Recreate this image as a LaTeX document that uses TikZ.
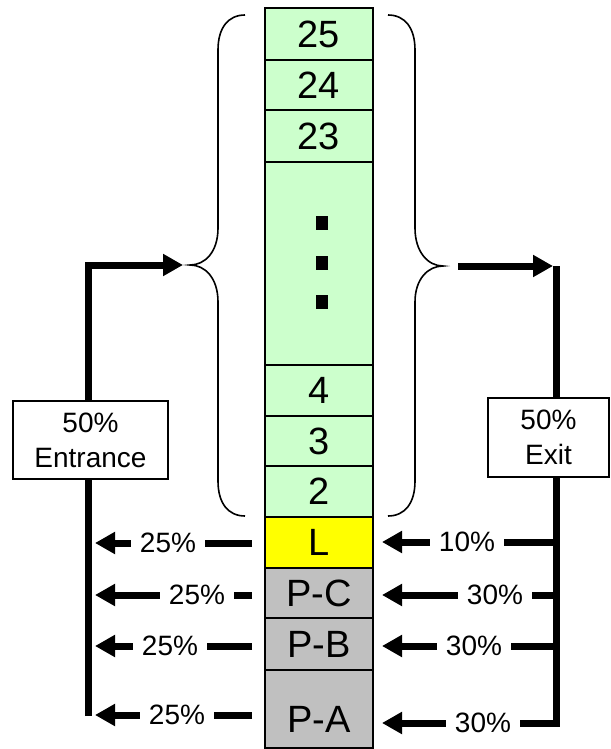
\documentclass[tikz,border=0pt]{standalone}
\usepackage{fontspec}
\setmainfont{Liberation Sans}
\usetikzlibrary{arrows.meta}
\definecolor{flgreen}{HTML}{CCFFCC}
\definecolor{flyellow}{HTML}{FFFF00}
\definecolor{flgray}{HTML}{C0C0C0}
\begin{document}
\begin{tikzpicture}[x=1pt,y=-1pt,
  floorbox/.style={draw, line width=1.8pt, minimum width=108pt, inner sep=0pt, font=\fontsize{38}{40}\selectfont},
  flow/.style={line width=7pt},
  arr/.style={flow, -{Triangle[length=20pt,width=21pt]}},
  pct/.style={fill=white, inner xsep=9pt, inner ysep=2pt, font=\fontsize{28}{30}\selectfont},
  infobox/.style={draw, line width=1.5pt, fill=white, align=center, inner sep=0pt, font=\fontsize{28}{35}\selectfont},
  brc/.style={line width=1.6pt},
  sq/.style={fill=black, minimum width=12pt, minimum height=14pt, inner sep=0pt}]
\useasboundingbox (0,0) rectangle (610,749);

% column of floors
\node[floorbox, fill=flgreen, minimum height=52pt] (f25) at (319,34) {25};
\node[floorbox, fill=flgreen, minimum height=50pt] (f24) at (319,85) {24};
\node[floorbox, fill=flgreen, minimum height=52pt] (f23) at (319,136) {23};
\node[floorbox, fill=flgreen, minimum height=203pt] (fdots) at (319,263.5) {};
\node[floorbox, fill=flgreen, minimum height=51pt] (f4) at (319,390.5) {4};
\node[floorbox, fill=flgreen, minimum height=50pt] (f3) at (319,441) {3};
\node[floorbox, fill=flgreen, minimum height=51pt] (f2) at (319,491.5) {2};
\node[floorbox, fill=flyellow, minimum height=51pt] (fL) at (319,542.5) {L};
\node[floorbox, fill=flgray, minimum height=50pt] (fPC) at (319,593) {P-C};
\node[floorbox, fill=flgray, minimum height=52pt] (fPB) at (319,644) {P-B};
\node[floorbox, fill=flgray, minimum height=78pt] (fPA) at (319,709) {};
\node[font=\fontsize{38}{40}\selectfont, inner sep=0pt] (tPA) at (319,719) {P-A};

% dots
\node[sq] (d1) at (322,223) {};
\node[sq] (d2) at (322,262.5) {};
\node[sq] (d3) at (322,301.5) {};

% braces
\draw[brc] (245,15) .. controls (228,15) and (218,28) .. (218,50) -- (218,228)
  .. controls (218,252) and (205,265) .. (190,265)
  .. controls (205,265) and (218,278) .. (218,302) -- (218,481)
  .. controls (218,503) and (228,516) .. (245,516);
\draw[brc] (388,15) .. controls (405,15) and (415,28) .. (415,50) -- (415,228)
  .. controls (415,252) and (428,266) .. (443,266)
  .. controls (428,266) and (415,279) .. (415,302) -- (415,481)
  .. controls (415,503) and (405,516) .. (388,516);

% left (entrance) side
\coordinate (lbot) at (88,716);
\coordinate (ltop) at (88,265);
\coordinate (ltip) at (183,265);
\draw[arr] (lbot) -- (ltop) -- (ltip);

\coordinate (lsL) at (252,543);  \coordinate (leL) at (95,543);
\coordinate (lsPC) at (252,595); \coordinate (lePC) at (95,595);
\coordinate (lsPB) at (252,646); \coordinate (lePB) at (95,646);
\coordinate (lsPA) at (252,715); \coordinate (lePA) at (95,715);
\draw[arr] (lsL) -- (leL);
\draw[arr] (lsPC) -- (lePC);
\draw[arr] (lsPB) -- (lePB);
\draw[arr] (lsPA) -- (lePA);
\node[pct] (pL) at (168,543) {25\%};
\node[pct] (pPC) at (197,595) {25\%};
\node[pct] (pPB) at (170,646) {25\%};
\node[pct] (pPA) at (177,715) {25\%};

\node[infobox, minimum width=155pt, minimum height=78pt] (entr) at (90.5,440) {50\%\\Entrance};

% right (exit) side
\coordinate (rstart) at (458,266);
\coordinate (rtip) at (553,266);
\draw[arr] (rstart) -- (rtip);

\coordinate (rtop) at (556,266);
\coordinate (rbot) at (556,723);
\coordinate (reL) at (382,542);
\coordinate (rePC) at (382,595);
\coordinate (rePB) at (382,646);
\coordinate (rePA) at (382,723);
\coordinate (rsL) at (556,542);
\coordinate (rsPC) at (556,595);
\coordinate (rsPB) at (556,646);
\draw[arr] (rtop) -- (rbot) -- (rePA);
\draw[arr] (rsL) -- (reL);
\draw[arr] (rsPC) -- (rePC);
\draw[arr] (rsPB) -- (rePB);
\node[pct] (qL) at (467,542) {10\%};
\node[pct] (qPC) at (495,595) {30\%};
\node[pct] (qPB) at (474,646) {30\%};
\node[pct] (qPA) at (483,723) {30\%};

\node[infobox, minimum width=121pt, minimum height=79pt] (exitb) at (548.5,437.5) {50\%\\Exit};
\end{tikzpicture}
\end{document}
